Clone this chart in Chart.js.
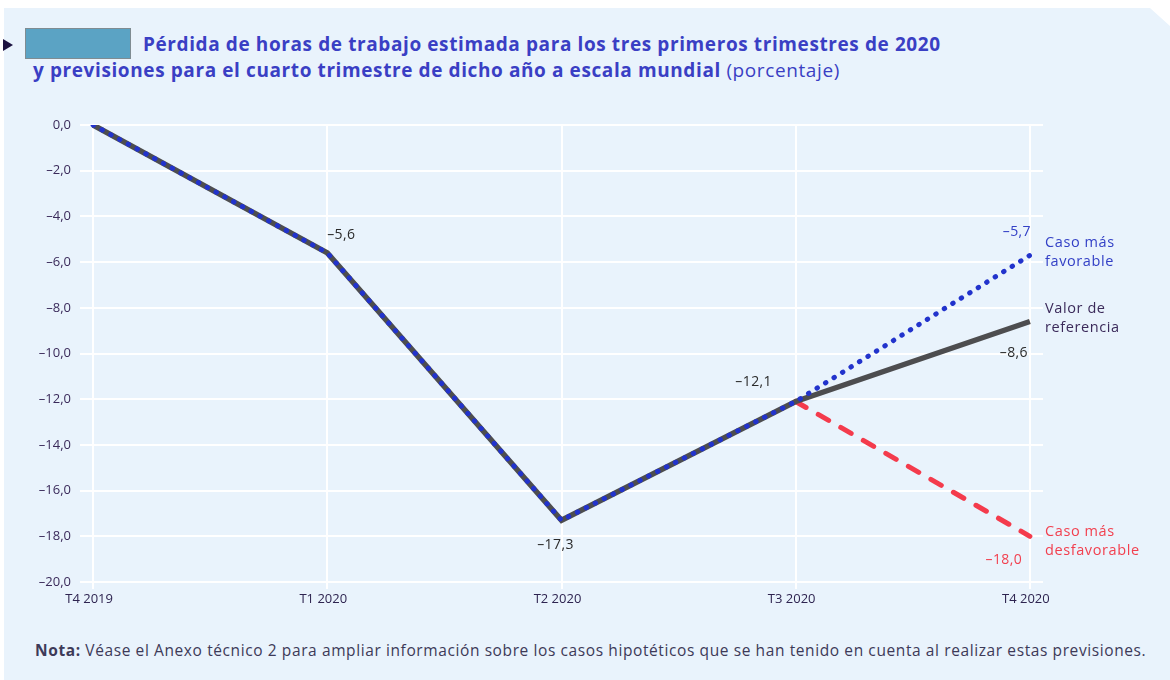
<!DOCTYPE html>
<html>
<head>
<meta charset="utf-8">
<script src="https://cdn.jsdelivr.net/npm/chart.js@4.4.1/dist/chart.umd.min.js"></script>
<style>
  html, body { margin: 0; padding: 0; background: #fff; }
  #page { position: relative; width: 1170px; height: 680px; overflow: hidden; font-family: "Open Sans", sans-serif; }
  #panel { position: absolute; left: 4px; top: 8px; right: 0; bottom: 0; background: #e9f3fc;
           clip-path: polygon(0 0, 1146px 0, 1166px 18px, 100% 100%, 0 100%); }
  #arrow { position: absolute; left: 3px; top: 39px; width: 0; height: 0;
           border-top: 6px solid transparent; border-bottom: 6px solid transparent; border-left: 10px solid #1c1240; }
  #box { position: absolute; left: 25px; top: 28px; width: 104px; height: 29px; background: #5ba3c4; border: 1px solid #7f8c92; }
  .title { position: absolute; color: #3a3fc4; font-size: 19px; font-weight: 700; white-space: nowrap; line-height: 24px; letter-spacing: 0.6px; }
  .title span { font-weight: 400; }
  #note { position: absolute; left: 35px; top: 639px; font-size: 15.5px; letter-spacing: 0.6px; color: #3d3a58; white-space: nowrap; }
  #wrap { position: absolute; left: 0; top: 0; width: 1170px; height: 680px; }
</style>
</head>
<body>
<div id="page">
  <div id="panel"></div>
  <div id="arrow"></div>
  <div id="box"></div>
  <div class="title" style="left:143px; top:32px;">Pérdida de horas de trabajo estimada para los tres primeros trimestres de 2020</div>
  <div class="title" style="left:33px; top:58px;">y previsiones para el cuarto trimestre de dicho año a escala mundial <span>(porcentaje)</span></div>
  <div id="note"><b>Nota:</b> Véase el Anexo técnico 2 para ampliar información sobre los casos hipotéticos que se han tenido en cuenta al realizar estas previsiones.</div>
  <div id="wrap"><canvas id="chart" width="1170" height="680"></canvas></div>
</div>
<script>
const quarters = ['T4 2019', 'T1 2020', 'T2 2020', 'T3 2020', 'T4 2020']
const referencia = [0, -5.6, -17.3, -12.1, -8.6]
const favorable = [0, -5.6, -17.3, -12.1, -5.7]
const desfavorable = [null, null, null, -12.1, -18.0]

const fmt = v => v.toFixed(1).replace('.', ',').replace('-', '–')

const toPoints = arr => arr.map((y, i) => ({x: i, y: y}))

// value labels: which series / index, and where the text sits relative to the point
const valueLabels = [
    {data: referencia, i: 1, color: '#2b2b2b', dx: 14, dy: -18},
    {data: referencia, i: 2, color: '#2b2b2b', dx: -6, dy: 25},
    {data: referencia, i: 3, color: '#2b2b2b', dx: -42, dy: -19},
    {data: referencia, i: 4, color: '#2b2b2b', dx: -16, dy: 32},
    {data: favorable, i: 4, color: '#3340c6', dx: -13, dy: -23},
    {data: desfavorable, i: 4, color: '#f2404f', dx: -26, dy: 24},
]
const seriesNames = [
    {data: favorable, lines: ['Caso más', 'favorable'], color: '#3340c6', dy: -2},
    {data: referencia, lines: ['Valor de', 'referencia'], color: '#3b2a5a', dy: -3},
    {data: desfavorable, lines: ['Caso más', 'desfavorable'], color: '#f2404f', dy: 6},
]

const labelsPlugin = {
    id: 'labels',
    afterDatasetsDraw(chart) {
        const ctx = chart.ctx
        const xs = chart.scales.x, ys = chart.scales.y
        ctx.save()
        ctx.font = '14px "Open Sans"'
        ctx.letterSpacing = '0.4px'
        ctx.textAlign = 'center'
        ctx.textBaseline = 'middle'
        valueLabels.forEach(l => {
            ctx.fillStyle = l.color
            ctx.fillText(fmt(l.data[l.i]), xs.getPixelForValue(l.i) + l.dx, ys.getPixelForValue(l.data[l.i]) + l.dy)
        })
        ctx.textAlign = 'left'
        ctx.font = '14.5px "Open Sans"'
        ctx.letterSpacing = '0.6px'
        seriesNames.forEach(s => {
            const last = s.data.length - 1
            const y = ys.getPixelForValue(s.data[last]) + s.dy
            ctx.fillStyle = s.color
            ctx.fillText(s.lines[0], chart.chartArea.right + 2, y - 10)
            ctx.fillText(s.lines[1], chart.chartArea.right + 2, y + 9)
        })
        ctx.restore()
    }
}

new Chart(document.getElementById('chart').getContext('2d'), {
    type: 'line',
    data: {
        datasets: [
            {
                label: 'Caso más favorable',
                data: toPoints(favorable),
                borderColor: '#2233cc',
                borderWidth: 5,
                borderDash: [0.5, 9.5],
                borderCapStyle: 'round',
                pointRadius: 0,
                tension: 0
            },
            {
                label: 'Valor de referencia',
                data: toPoints(referencia),
                borderColor: '#4d4d4f',
                borderWidth: 5.5,
                pointRadius: 0,
                tension: 0
            },
            {
                label: 'Caso más desfavorable',
                data: toPoints(desfavorable),
                borderColor: '#f43b4c',
                borderWidth: 5,
                borderDash: [12, 14],
                borderCapStyle: 'round',
                pointRadius: 0,
                spanGaps: false,
                tension: 0
            }
        ]
    },
    options: {
        responsive: false,
        animation: false,
        events: [],
        layout: {padding: {left: 0, top: 125, right: 127, bottom: 0}},
        plugins: {legend: {display: false}, tooltip: {enabled: false}},
        scales: {
            x: {
                type: 'linear',
                min: -0.056,
                max: 4.056,
                afterBuildTicks: s => { s.ticks = quarters.map((_, i) => ({value: i})) },
                afterFit: s => { s.height = 98 },
                border: {display: false},
                grid: {color: '#ffffff', lineWidth: 2, tickLength: 7, drawTicks: true},
                ticks: {
                    callback: v => quarters[v],
                    color: '#2e2450',
                    font: {family: 'Open Sans', size: 13},
                    padding: 2,
                    labelOffset: -4,
                    maxRotation: 0
                }
            },
            y: {
                min: -20,
                max: 0,
                afterFit: s => { s.width = 80 },
                border: {display: false},
                grid: {color: '#ffffff', lineWidth: 2, drawTicks: false},
                ticks: {
                    stepSize: 2,
                    callback: v => fmt(v),
                    color: '#3a2a5a',
                    font: {family: 'Open Sans', size: 13},
                    padding: 9
                }
            }
        }
    },
    plugins: [labelsPlugin]
})
</script>
</body>
</html>
